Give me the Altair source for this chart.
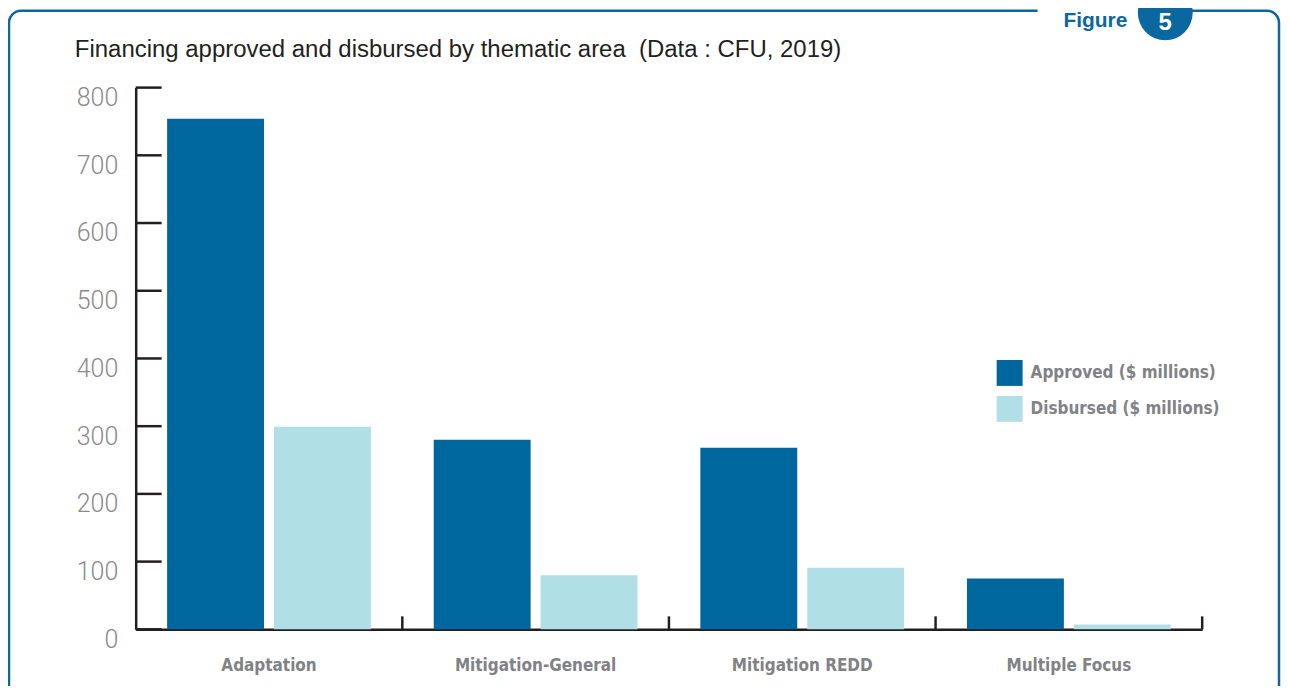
import altair as alt
import pandas as pd

# ---------------- data ----------------
categories = ["Adaptation", "Mitigation-General", "Mitigation REDD", "Multiple Focus"]
approved = [754, 280, 268, 75]
disbursed = [299, 80, 91, 7]
series = ["Approved ($ millions)", "Disbursed ($ millions)"]
colors = ["#00669E", "#B0E0E6"]
y_ticks = [0, 100, 200, 300, 400, 500, 600, 700, 800]
title_text = "Financing approved and disbursed by thematic area\u00a0 (Data : CFU, 2019)"
badge_word = "Figure"
badge_number = "5"

rows = []
for c, a, d in zip(categories, approved, disbursed):
    rows.append({"category": c, "series": series[0], "value": a})
    rows.append({"category": c, "series": series[1], "value": d})
df = pd.DataFrame(rows)

# ---------------- layout ----------------
W, H = 1069, 543
PAD = {"left": 128, "top": 79, "right": 79, "bottom": 56}
BLUE = "#0A67A0"
AXIS = "#231f20"
GRAY = "#808285"
COND = "DejaVu Sans Condensed, Liberation Sans Narrow, sans-serif"

x_axis = alt.Axis(
    title=None, labelAngle=0, ticks=False, grid=False,
    domainColor=AXIS, domainWidth=2.5,
    labelFont=COND, labelFontSize=17, labelFontWeight="bold",
    labelColor=GRAY, labelPadding=28, labelLimit=400,
)
y_axis = alt.Axis(
    title=None, values=y_ticks, ticks=False, grid=False,
    domainColor=AXIS, domainWidth=2.5,
    labelFont="Roboto", labelFontWeight=300, labelFontSize=25,
    labelColor="#8a8a8a", labelPadding=18, labelOffset=10,
)
x_scale = alt.Scale(domain=categories, paddingInner=0, paddingOuter=0)
y_scale = alt.Scale(domain=[0, 800], nice=False)

one = pd.DataFrame({"k": [0]})

frame = alt.Chart(one).mark_rect(
    filled=False, color=BLUE, strokeWidth=2.5, cornerRadius=12
).encode(x=alt.value(-127), x2=alt.value(1146), y=alt.value(-77), y2=alt.value(620))

gap = alt.Chart(one).mark_rect(color="white").encode(
    x=alt.value(904), x2=alt.value(1040), y=alt.value(-82), y2=alt.value(-72)
)

circle = alt.Chart(one).mark_point(
    filled=True, shape="circle", size=3025, color=BLUE, opacity=1
).encode(x=alt.value(1032), y=alt.value(-75))

fig_word = alt.Chart(one).mark_text(
    text=badge_word, align="right", baseline="alphabetic", font="Liberation Sans",
    fontWeight="bold", fontSize=21, color=BLUE
).encode(x=alt.value(994), y=alt.value(-61))

fig_num = alt.Chart(one).mark_text(
    text=badge_number, align="center", baseline="alphabetic", font="Liberation Sans",
    fontWeight="bold", fontSize=24, color="white"
).encode(x=alt.value(1032), y=alt.value(-58))

title = alt.Chart(one).mark_text(
    text=title_text, align="left", baseline="alphabetic", font="Liberation Sans",
    fontSize=24, color=AXIS
).encode(x=alt.value(-61), y=alt.value(-31))

bars = alt.Chart(df).mark_bar().encode(
    x=alt.X("category:N", sort=categories, scale=x_scale, axis=x_axis),
    xOffset=alt.XOffset(
        "series:N", sort=series,
        scale=alt.Scale(domain=series, paddingInner=0.0935, paddingOuter=0.294),
    ),
    y=alt.Y("value:Q", scale=y_scale, axis=y_axis),
    color=alt.Color(
        "series:N",
        scale=alt.Scale(domain=series, range=colors),
        legend=alt.Legend(
            title=None, orient="none", legendX=863, legendY=273,
            symbolType="square", symbolSize=676, symbolStrokeWidth=0,
            labelFont=COND, labelFontSize=17, labelFontWeight="bold",
            labelColor=GRAY, rowPadding=10, labelOffset=8, padding=0,
            labelLimit=400,
        ),
    ),
)

ytick_marks = alt.Chart(pd.DataFrame({"value": y_ticks})).mark_rule(
    color=AXIS, strokeWidth=2.5
).encode(y=alt.Y("value:Q", scale=y_scale, axis=y_axis), x=alt.value(0), x2=alt.value(26))

xtick_marks = alt.Chart(pd.DataFrame({"category": categories})).mark_rule(
    color=AXIS, strokeWidth=2.5
).encode(
    x=alt.X("category:N", sort=categories, scale=x_scale, axis=x_axis, bandPosition=1),
    y=alt.value(H - 13), y2=alt.value(H),
)

chart = alt.layer(
    frame, gap, circle, fig_word, fig_num, title, bars, ytick_marks, xtick_marks
).properties(
    width=W, height=H, padding=PAD,
    autosize=alt.AutoSizeParams(type="none"),
).configure_view(stroke=None).configure_axis(grid=False)

chart.save("out.html", embed_options={"renderer": "svg", "actions": False})
